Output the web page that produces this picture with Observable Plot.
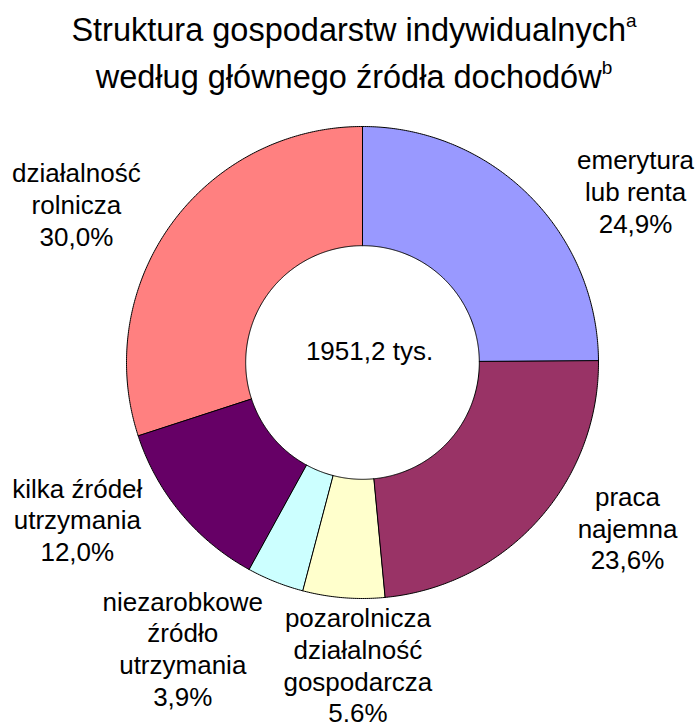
<!DOCTYPE html>
<html>
<head>
<meta charset="utf-8">
<script src="https://cdn.jsdelivr.net/npm/d3@7"></script>
<script src="https://cdn.jsdelivr.net/npm/@observablehq/plot@0.6"></script>
<style>
  html, body { margin: 0; padding: 0; background: #fff; }
  #title {
    width: 698px; height: 100px; box-sizing: border-box;
    padding-top: 9px; padding-left: 10px;
    font-family: "Liberation Sans", Arial, sans-serif;
    font-size: 32.5px; line-height: 43px; text-align: center; color: #000;
  }
  #title .sup { font-size: 19px; position: relative; top: -14px; }
  #chart svg { display: block; }
</style>
</head>
<body>
<div id="title">Struktura gospodarstw indywidualnych<span class="sup">a</span><br>według głównego źródła dochodów<span class="sup">b</span></div>
<div id="chart"></div>
<script>
// ---- data ----
const categories = [
  "emerytura lub renta",
  "praca najemna",
  "pozarolnicza działalność gospodarcza",
  "niezarobkowe źródło utrzymania",
  "kilka źródeł utrzymania",
  "działalność rolnicza"
];
const labelTexts = [
  "emerytura\nlub renta",
  "praca\nnajemna",
  "pozarolnicza\ndziałalność\ngospodarcza",
  "niezarobkowe\nźródło\nutrzymania",
  "kilka źródeł\nutrzymania",
  "działalność\nrolnicza"
];
const shares = [24.9, 23.6, 5.6, 3.9, 12.0, 30.0];
const totalLabel = "1951,2 tys.";

// ---- styling / layout ----
const sliceColors = ["#9999FF", "#993366", "#FFFFCC", "#CCFFFF", "#660066", "#FF8080"];
const innerRatio = 0.495;
const labelAngleShift = [13.0, -10.2, -3.8, 10.4, 10.8, -7.0]; // degrees
const labelRadius = [1.367, 1.323, 1.280, 1.430, 1.379, 1.386];

const fmt = v => d3.format(".1f")(v).replace(".", ",") + "%";
const arcs = d3.pie().sort(null).value(d => d)(shares);

function ring(a0, a1, r0, r1) {
  const n = Math.max(2, Math.ceil((a1 - a0) / (Math.PI / 360)));
  const pts = [];
  for (let i = 0; i <= n; i++) {
    const a = a0 + (a1 - a0) * i / n;
    pts.push([r1 * Math.sin(a), -r1 * Math.cos(a)]);
  }
  for (let i = n; i >= 0; i--) {
    const a = a0 + (a1 - a0) * i / n;
    pts.push([r0 * Math.sin(a), -r0 * Math.cos(a)]);
  }
  pts.push(pts[0]);
  return pts;
}

const features = arcs.map((a, i) => ({
  type: "Feature",
  properties: {name: categories[i]},
  geometry: {type: "Polygon", coordinates: [ring(a.startAngle, a.endAngle, innerRatio, 1)]}
}));

const labels = arcs.map((a, i) => {
  const ang = (a.startAngle + a.endAngle) / 2 + labelAngleShift[i] * Math.PI / 180;
  const k = labelRadius[i];
  return {x: k * Math.sin(ang), y: -k * Math.cos(ang), text: labelTexts[i] + "\n" + fmt(shares[i])};
});

const chart = Plot.plot({
  width: 698,
  height: 622,
  marginLeft: 126,
  marginRight: 100,
  marginTop: 26,
  marginBottom: 124,
  style: {fontFamily: "'Liberation Sans', Arial, sans-serif", background: "white", color: "black"},
  projection: {
    type: "identity",
    domain: {type: "MultiPoint", coordinates: [[-1, -1], [1, 1]]},
    clip: false
  },
  color: {domain: categories, range: sliceColors},
  marks: [
    Plot.geo(features, {fill: d => d.properties.name, stroke: "black", strokeWidth: 1}),
    Plot.text([totalLabel], {frameAnchor: "middle", text: d => d, dx: 7, dy: -11, fontSize: 26, fill: "black"}),
    Plot.text(labels, {x: "x", y: "y", text: "text", fontSize: 26, lineHeight: 1.22, fill: "black"})
  ]
});
document.getElementById("chart").appendChild(chart);
</script>
</body>
</html>
